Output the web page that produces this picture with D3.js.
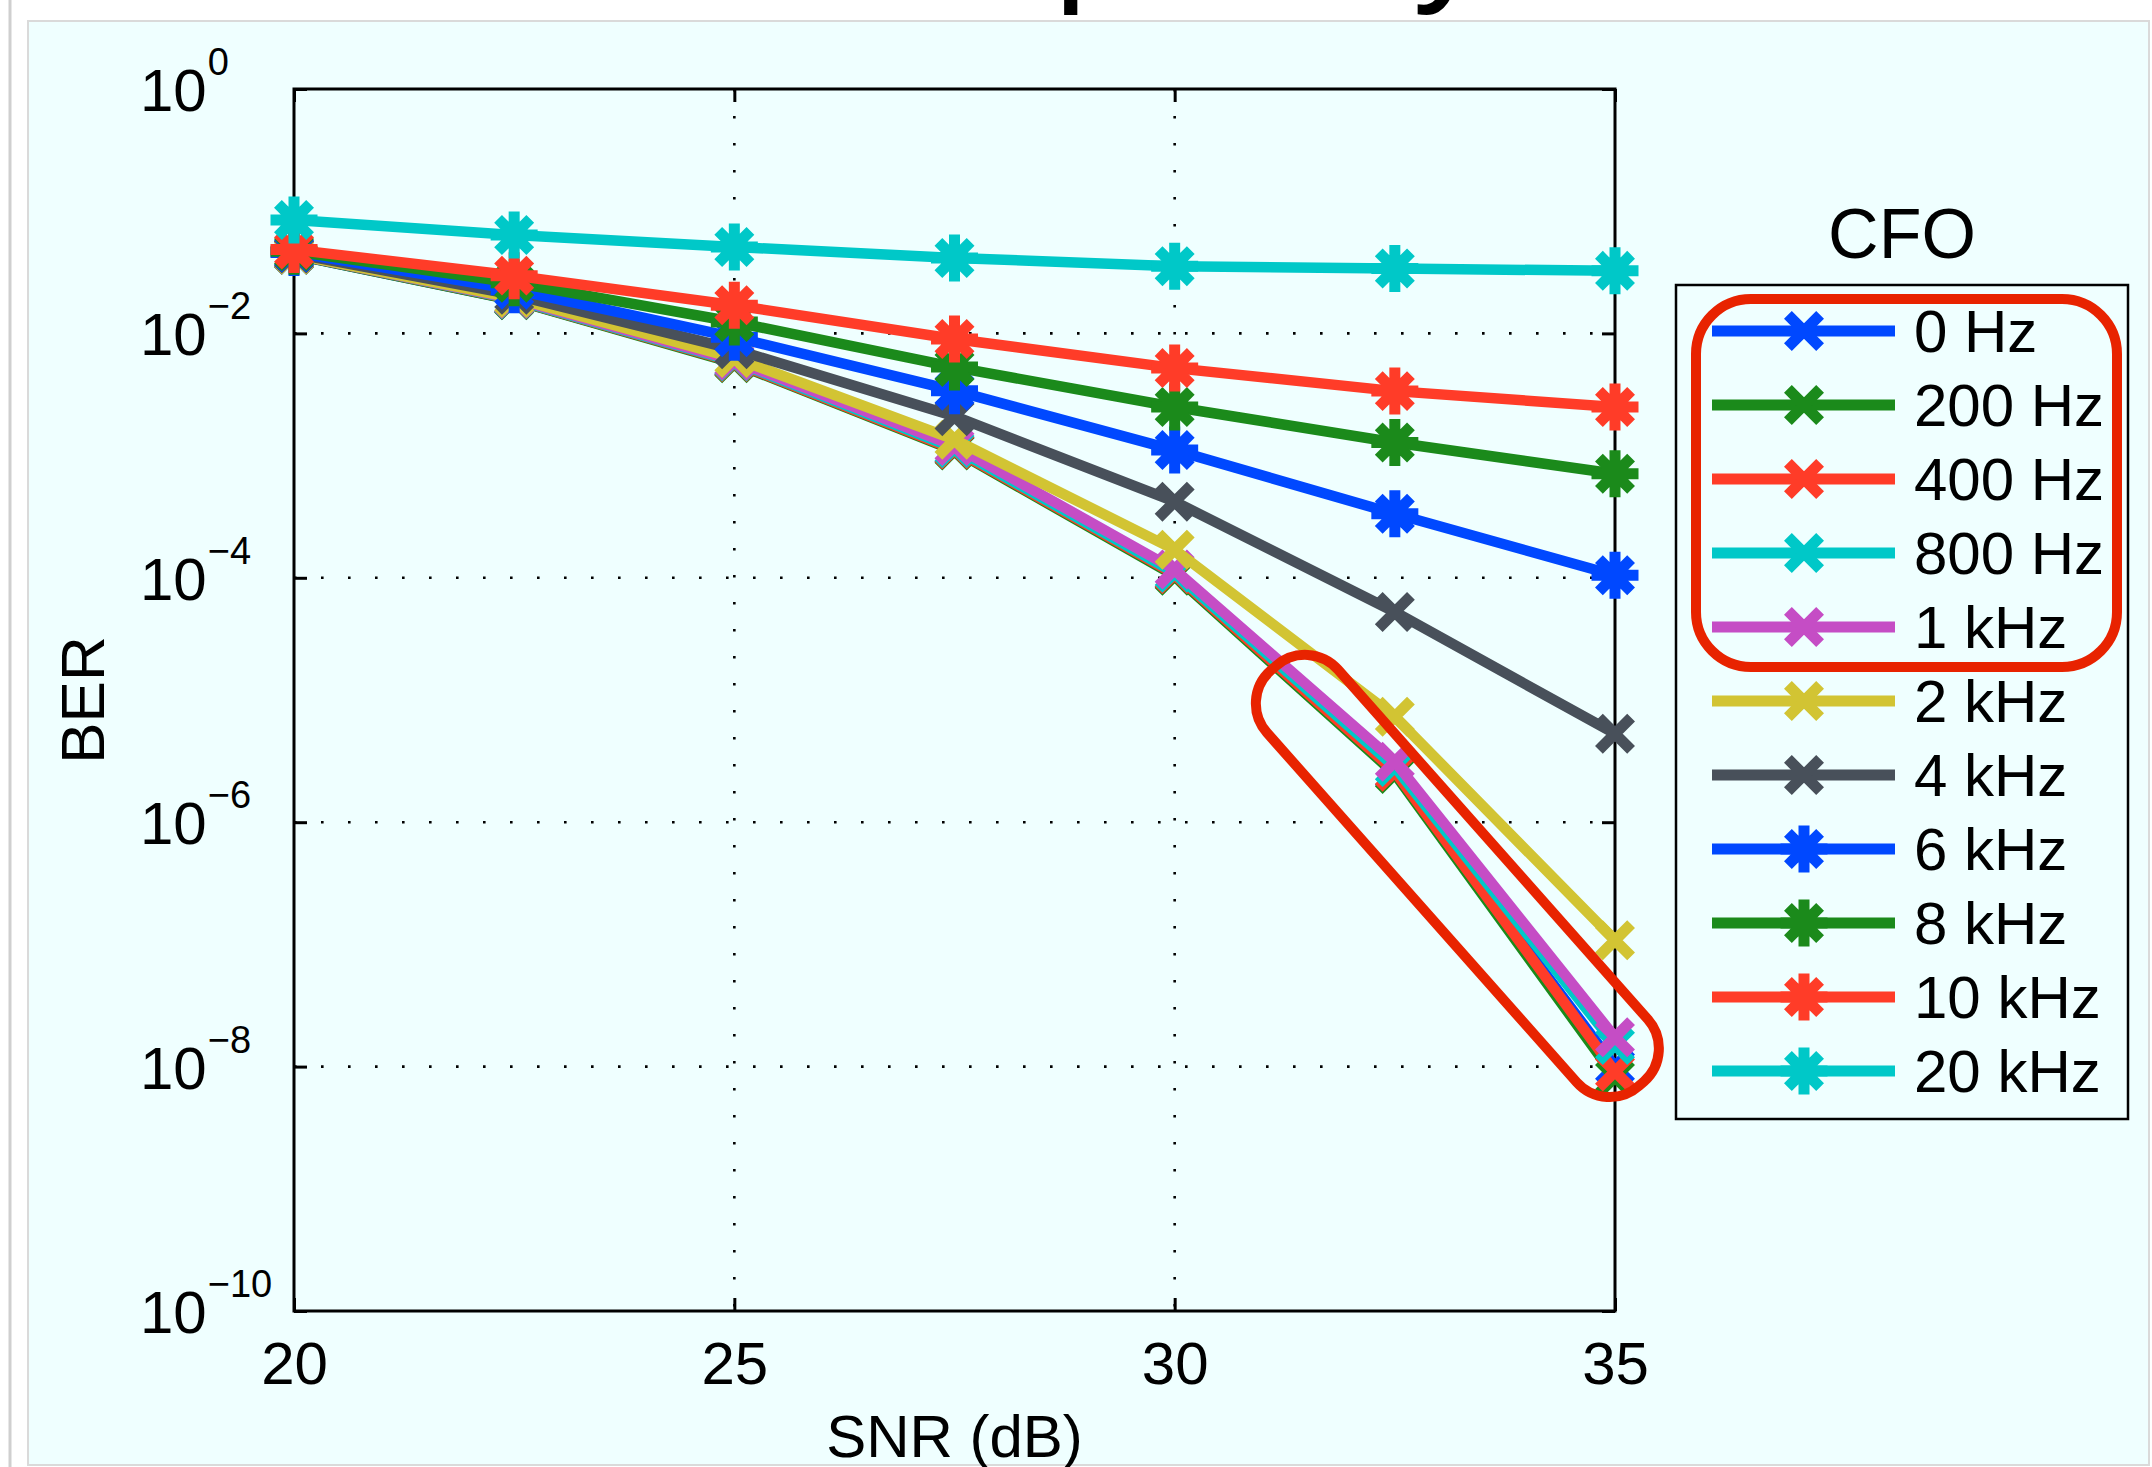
<!DOCTYPE html>
<html>
<head>
<meta charset="utf-8">
<script src="https://cdn.jsdelivr.net/npm/d3@7"></script>
<style>
  body { margin: 0; background: #fff; }
  svg { display: block; }
  text { font-family: "Liberation Sans", Arial, Helvetica, sans-serif; fill: #000; }
</style>
</head>
<body>
<script>
// SNR points (dB)
var snr = [20, 22.5, 25, 27.5, 30, 32.5, 35];

var cfoLabels = ["0 Hz", "200 Hz", "400 Hz", "800 Hz", "1 kHz", "2 kHz",
                 "4 kHz", "6 kHz", "8 kHz", "10 kHz", "20 kHz"];
var markerKinds = ["x", "x", "x", "x", "x", "x", "x", "*", "*", "*", "*"];
var lineColors = ["#0048ff", "#1b8a1b", "#ff3c28", "#00c8c8", "#c54dc5", "#d2c433",
                  "#48505a", "#0048ff", "#1b8a1b", "#ff3c28", "#00c8c8"];

// BER
var ber0Hz   = [0.0440, 0.0188, 0.0058, 1.12e-3, 1.06e-4, 2.55e-6, 1.0e-8];
var ber200Hz = [0.0440, 0.0187, 0.0057, 1.10e-3, 1.04e-4, 2.48e-6, 8.2e-9];
var ber400Hz = [0.0443, 0.0189, 0.0058, 1.12e-3, 1.07e-4, 2.59e-6, 9.1e-9];
var ber800Hz = [0.0445, 0.0190, 0.0059, 1.15e-3, 1.10e-4, 2.83e-6, 1.5e-8];
var ber1kHz  = [0.0445, 0.0192, 0.0060, 1.20e-3, 1.17e-4, 3.13e-6, 1.74e-8];
var ber2kHz  = [0.0443, 0.0195, 0.0063, 1.35e-3, 1.70e-4, 7.3e-6, 1.08e-7];
var ber4kHz  = [0.0450, 0.0207, 0.0074, 2.10e-3, 4.20e-4, 5.25e-5, 5.3e-6];
var ber6kHz  = [0.0460, 0.0228, 0.0093, 3.40e-3, 1.11e-3, 3.34e-4, 1.05e-4];
var ber8kHz  = [0.0470, 0.0260, 0.0124, 5.30e-3, 2.50e-3, 1.28e-3, 7.1e-4];
var ber10kHz = [0.0485, 0.0297, 0.0170, 9.00e-3, 5.20e-3, 3.37e-3, 2.5e-3];
var ber20kHz = [0.0847, 0.0638, 0.0510, 0.0414, 0.0355, 0.0340, 0.0325];

var berSeries = [ber0Hz, ber200Hz, ber400Hz, ber800Hz, ber1kHz, ber2kHz,
                 ber4kHz, ber6kHz, ber8kHz, ber10kHz, ber20kHz];

var xTicks = [20, 25, 30, 35];
var yTickExps = [0, -2, -4, -6, -8, -10];

var W = 2152, H = 1467;
var margin = {top: 89, right: 537, bottom: 156, left: 294},
    width = W - margin.left - margin.right,
    height = H - margin.top - margin.bottom;

var svg = d3.select("body").append("svg")
    .attr("width", W)
    .attr("height", H);

// figure background
svg.append("rect").attr("width", W).attr("height", H).attr("fill", "#fff");
svg.append("line")
    .attr("x1", 10).attr("x2", 10).attr("y1", 0).attr("y2", H)
    .attr("stroke", "#cfcfcf").attr("stroke-width", 3);
svg.append("rect")
    .attr("x", 28).attr("y", 21)
    .attr("width", W - 28 - 3).attr("height", 1444)
    .attr("fill", "#efffff")
    .attr("stroke", "#dadada").attr("stroke-width", 2);

// title, mostly above the picture
svg.append("text")
    .attr("x", 779).attr("y", -16)
    .attr("font-size", 150)
    .text("Frequency");

var g = svg.append("g")
    .attr("transform", "translate(" + margin.left + "," + margin.top + ")");

var x = d3.scaleLinear().domain([20, 35]).range([0, width]);
var y = d3.scaleLog().domain([1e-10, 1]).range([height, 0]);

// dotted grid
g.selectAll("line.hgrid")
    .data(yTickExps.slice(1, -1))
  .enter().append("line")
    .attr("class", "hgrid")
    .attr("x1", 0).attr("x2", width)
    .attr("y1", function(e) { return y(Math.pow(10, e)); })
    .attr("y2", function(e) { return y(Math.pow(10, e)); })
    .attr("stroke", "#000").attr("stroke-width", 2.6)
    .attr("stroke-dasharray", "2.6 24.4");

g.selectAll("line.vgrid")
    .data(xTicks.slice(1, -1))
  .enter().append("line")
    .attr("class", "vgrid")
    .attr("x1", function(d) { return x(d); }).attr("x2", function(d) { return x(d); })
    .attr("y1", 0).attr("y2", height)
    .attr("stroke", "#000").attr("stroke-width", 2.6)
    .attr("stroke-dasharray", "2.6 24.4");

// inward ticks on all four sides
var tickVals = yTickExps.map(function(e) { return Math.pow(10, e); });
function styleAxis(sel) {
  sel.select(".domain").remove();
  sel.selectAll(".tick line").attr("stroke", "#000").attr("stroke-width", 3);
}
g.append("g").call(d3.axisLeft(y).tickValues(tickVals).tickSize(-13).tickFormat("")).call(styleAxis);
g.append("g").attr("transform", "translate(" + width + ",0)")
    .call(d3.axisRight(y).tickValues(tickVals).tickSize(-13).tickFormat("")).call(styleAxis);
g.append("g")
    .call(d3.axisTop(x).tickValues(xTicks).tickSize(-13).tickFormat("")).call(styleAxis);

var xAxis = g.append("g")
    .attr("transform", "translate(0," + height + ")")
    .call(d3.axisBottom(x).tickValues(xTicks).tickSize(-13).tickPadding(30).tickFormat(d3.format("d")))
    .call(styleAxis);
xAxis.selectAll(".tick text")
    .attr("font-size", 60)
    .attr("font-family", "'Liberation Sans', Arial, sans-serif")
    .attr("fill", "#000");

// box
g.append("rect")
    .attr("width", width).attr("height", height)
    .attr("fill", "none").attr("stroke", "#000").attr("stroke-width", 3);

// y tick labels 10^e
var yLab = g.selectAll("text.ylab")
    .data(yTickExps)
  .enter().append("text")
    .attr("class", "ylab")
    .attr("x", -154)
    .attr("y", function(e) { return y(Math.pow(10, e)) + 22; });
yLab.append("tspan").attr("font-size", 60).text("10");
yLab.append("tspan").attr("font-size", 38).attr("dx", 1).attr("dy", -36)
    .text(function(e) { return e === 0 ? "0" : "\u2212" + Math.abs(e); });

// axis labels
g.append("text")
    .attr("x", width / 2).attr("y", height + 146)
    .attr("text-anchor", "middle")
    .attr("font-size", 60)
    .text("SNR (dB)");

g.append("text")
    .attr("transform", "translate(" + (-190) + "," + (height / 2) + ") rotate(-90)")
    .attr("text-anchor", "middle")
    .attr("font-size", 62)
    .text("BER");

// series
var line = d3.line()
    .x(function(d, i) { return x(snr[i]); })
    .y(function(d) { return y(d); });

function markerPath(kind) {
  var h = 16.1, r = 23.5;
  var p = "M" + (-h) + "," + (-h) + "L" + h + "," + h +
          "M" + (-h) + "," + h + "L" + h + "," + (-h);
  if (kind === "*") p += "M0," + (-r) + "L0," + r + "M" + (-r) + ",0L" + r + ",0";
  return p;
}

berSeries.forEach(function(vals, k) {
  var s = g.append("g").attr("class", "series");
  s.append("path")
      .attr("d", line(vals))
      .attr("fill", "none")
      .attr("stroke", lineColors[k])
      .attr("stroke-width", 10.5)
      .attr("stroke-linejoin", "miter");
  s.selectAll("path.mk")
      .data(vals)
    .enter().append("path")
      .attr("class", "mk")
      .attr("transform", function(d, i) { return "translate(" + x(snr[i]) + "," + y(d) + ")"; })
      .attr("d", markerPath(markerKinds[k]))
      .attr("stroke", lineColors[k])
      .attr("stroke-width", 11)
      .attr("stroke-linecap", "butt")
      .attr("fill", "none");
});

// highlight round the low-CFO bundle at high SNR
var hlA = [x(31.12), y(Math.pow(10, -4.74))],
    hlB = [x(35.3), y(Math.pow(10, -8.14))];
var hlLen = Math.hypot(hlB[0] - hlA[0], hlB[1] - hlA[1]),
    hlAng = Math.atan2(hlB[1] - hlA[1], hlB[0] - hlA[0]) * 180 / Math.PI;
g.append("rect")
    .attr("transform", "translate(" + ((hlA[0] + hlB[0]) / 2) + "," + ((hlA[1] + hlB[1]) / 2) + ") rotate(" + hlAng + ")")
    .attr("x", -hlLen / 2).attr("y", -47.5)
    .attr("width", hlLen).attr("height", 95)
    .attr("rx", 44).attr("ry", 44)
    .attr("fill", "none")
    .attr("stroke", "#e82300").attr("stroke-width", 10);

// legend
var legX = 1676, legY = 285, legW = 452, legH = 834;
var rowY0 = 331, rowStep = 74;
var leg = svg.append("g");

leg.append("text")
    .attr("x", legX + legW / 2).attr("y", 258)
    .attr("text-anchor", "middle")
    .attr("font-size", 70)
    .text("CFO");

leg.append("rect")
    .attr("x", legX).attr("y", legY)
    .attr("width", legW).attr("height", legH)
    .attr("fill", "none").attr("stroke", "#000").attr("stroke-width", 2.5);

var rows = leg.selectAll("g.row")
    .data(cfoLabels)
  .enter().append("g")
    .attr("class", "row")
    .attr("transform", function(d, i) { return "translate(0," + (rowY0 + i * rowStep) + ")"; });

rows.append("line")
    .attr("x1", 1712).attr("x2", 1895)
    .attr("stroke", function(d, i) { return lineColors[i]; })
    .attr("stroke-width", 11);
rows.append("path")
    .attr("transform", "translate(1804,0)")
    .attr("d", function(d, i) { return markerPath(markerKinds[i]); })
    .attr("stroke", function(d, i) { return lineColors[i]; })
    .attr("stroke-width", 11)
    .attr("fill", "none");
rows.append("text")
    .attr("x", 1914).attr("y", 21)
    .attr("font-size", 60)
    .text(function(d) { return d; });

// highlight round the first five legend entries
leg.append("rect")
    .attr("x", 1696).attr("y", rowY0 - 32)
    .attr("width", 421).attr("height", 4 * rowStep + 72)
    .attr("rx", 55).attr("ry", 55)
    .attr("fill", "none")
    .attr("stroke", "#e82300").attr("stroke-width", 10);
</script>
</body>
</html>
